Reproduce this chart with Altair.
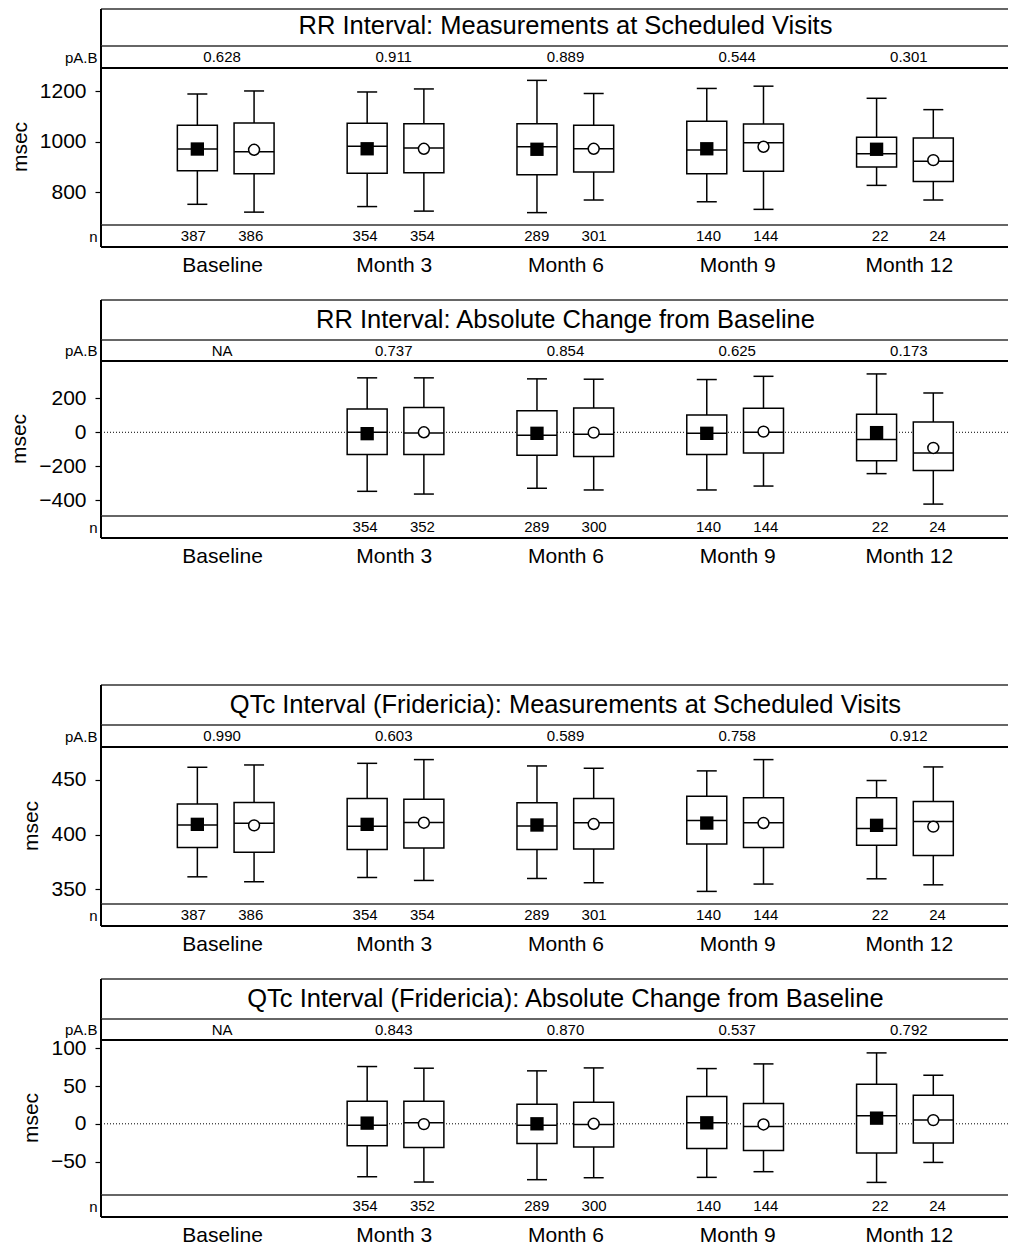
import json
import altair as alt
import pandas as pd

visits = ["Baseline", "Month 3", "Month 6", "Month 9", "Month 12"]

# ---------------- Panel 1: RR interval, measurements ----------------
rr_meas_title = "RR Interval: Measurements at Scheduled Visits"
rr_meas_p = ["0.628", "0.911", "0.889", "0.544", "0.301"]
rr_meas_A_n = [387, 354, 289, 140, 22]
rr_meas_B_n = [386, 354, 301, 144, 24]
rr_meas_A_lo = [752, 743, 719, 762, 827]
rr_meas_A_q1 = [885, 875, 869, 873, 900]
rr_meas_A_med = [971, 982, 980, 967, 952]
rr_meas_A_q3 = [1065, 1073, 1071, 1081, 1018]
rr_meas_A_hi = [1189, 1197, 1243, 1211, 1172]
rr_meas_A_mean = [971, 972, 970, 972, 970]
rr_meas_B_lo = [721, 725, 769, 732, 769]
rr_meas_B_q1 = [873, 877, 880, 883, 842]
rr_meas_B_med = [960, 975, 972, 996, 923]
rr_meas_B_q3 = [1074, 1071, 1065, 1070, 1015]
rr_meas_B_hi = [1201, 1209, 1191, 1220, 1127]
rr_meas_B_mean = [968, 972, 972, 980, 927]

# ---------------- Panel 2: RR interval, change from baseline ----------------
rr_chg_title = "RR Interval: Absolute Change from Baseline"
rr_chg_p = ["NA", "0.737", "0.854", "0.625", "0.173"]
rr_chg_A_n = [None, 354, 289, 140, 22]
rr_chg_B_n = [None, 352, 300, 144, 24]
rr_chg_A_lo = [None, -347, -329, -339, -243]
rr_chg_A_q1 = [None, -131, -135, -131, -167]
rr_chg_A_med = [None, 0, -18, -6, -43]
rr_chg_A_q3 = [None, 137, 127, 102, 106]
rr_chg_A_hi = [None, 320, 314, 310, 343]
rr_chg_A_mean = [None, -8, -6, -6, -2]
rr_chg_B_lo = [None, -363, -339, -316, -422]
rr_chg_B_q1 = [None, -131, -143, -122, -224]
rr_chg_B_med = [None, -4, -12, 0, -122]
rr_chg_B_q3 = [None, 145, 143, 141, 61]
rr_chg_B_hi = [None, 320, 312, 329, 231]
rr_chg_B_mean = [None, 0, -2, 4, -92]

# ---------------- Panel 3: QTcF, measurements ----------------
qt_meas_title = "QTc Interval (Fridericia): Measurements at Scheduled Visits"
qt_meas_p = ["0.990", "0.603", "0.589", "0.758", "0.912"]
qt_meas_A_n = [387, 354, 289, 140, 22]
qt_meas_B_n = [386, 354, 301, 144, 24]
qt_meas_A_lo = [361.5, 360.9, 360.0, 348.2, 359.7]
qt_meas_A_q1 = [388.2, 386.4, 386.4, 391.5, 390.3]
qt_meas_A_med = [408.8, 407.6, 407.9, 413.0, 405.5]
qt_meas_A_q3 = [427.9, 433.0, 429.1, 435.1, 433.6]
qt_meas_A_hi = [461.5, 465.1, 462.7, 458.2, 449.4]
qt_meas_A_mean = [409.4, 409.4, 408.8, 410.6, 408.5]
qt_meas_B_lo = [357.0, 358.2, 356.1, 354.9, 354.2]
qt_meas_B_q1 = [383.9, 387.9, 387.0, 388.2, 380.9]
qt_meas_B_med = [410.3, 411.2, 410.9, 410.9, 412.1]
qt_meas_B_q3 = [429.4, 432.4, 433.0, 433.6, 430.3]
qt_meas_B_hi = [463.6, 468.5, 460.6, 468.5, 461.8]
qt_meas_B_mean = [408.5, 410.9, 409.7, 410.6, 407.3]

# ---------------- Panel 4: QTcF, change from baseline ----------------
qt_chg_title = "QTc Interval (Fridericia): Absolute Change from Baseline"
qt_chg_p = ["NA", "0.843", "0.870", "0.537", "0.792"]
qt_chg_A_n = [None, 354, 289, 140, 22]
qt_chg_B_n = [None, 352, 300, 144, 24]
qt_chg_A_lo = [None, -70.2, -74.1, -71.0, -77.7]
qt_chg_A_q1 = [None, -29.1, -26.0, -32.6, -38.8]
qt_chg_A_med = [None, -1.8, -1.8, 1.3, 10.6]
qt_chg_A_q3 = [None, 30.0, 26.0, 36.2, 52.5]
qt_chg_A_hi = [None, 75.9, 70.2, 73.2, 94.0]
qt_chg_A_mean = [None, 0.9, 0.0, 1.3, 7.5]
qt_chg_B_lo = [None, -77.2, -71.5, -63.5, -51.2]
qt_chg_B_q1 = [None, -31.3, -30.9, -35.3, -25.6]
qt_chg_B_med = [None, 1.3, -0.9, -3.5, 4.9]
qt_chg_B_q3 = [None, 30.0, 28.7, 26.9, 37.9]
qt_chg_B_hi = [None, 73.7, 74.1, 79.4, 64.4]
qt_chg_B_mean = [None, -0.4, 0.0, -0.9, 4.9]

# ---------------- layout / style ----------------
FONT = "Liberation Sans"
W = 907
OFFSET = 0.167
xscale = alt.Scale(domain=[0.295, 0.295 + W / 171.7], nice=False, zero=False)
one = pd.DataFrame({"k": [0]})
label_expr = json.dumps(visits) + "[datum.value - 1]"


def hline(y, sw, color="black"):
    return alt.Chart(one).mark_rule(strokeWidth=sw, color=color).encode(
        x=alt.value(0), x2=alt.value(W), y=alt.value(y))


def vline(h, sw=2):
    return alt.Chart(one).mark_rule(strokeWidth=sw, color="black").encode(
        x=alt.value(0), y=alt.value(0), y2=alt.value(h))


def box_df(A, B):
    rows = []
    for arm, vals, off in (("A", A, -OFFSET), ("B", B, OFFSET)):
        lo, q1, med, q3, hi, mean, n = vals
        for i in range(len(visits)):
            if med[i] is None:
                continue
            rows.append(dict(pos=i + 1 + off, arm=arm, lo=lo[i], q1=q1[i], med=med[i],
                             q3=q3[i], hi=hi[i], mean=mean[i], n=str(n[i]), row="n"))
    return pd.DataFrame(rows)


def title_strip(title, h, text_y):
    df = pd.DataFrame({"title": [title]})
    t = alt.Chart(df).mark_text(fontSize=25.5, font=FONT, color="black", baseline="middle").encode(
        x=alt.X(datum=3, scale=xscale, axis=None), y=alt.value(text_y), text="title:N")
    return alt.layer(hline(0, 1.5, "#333333"), vline(h), t).properties(width=W, height=h)


def p_strip(pvals, h):
    df = pd.DataFrame({"pos": list(range(1, len(visits) + 1)), "p": pvals, "row": "pA.B"})
    t = alt.Chart(df).mark_text(fontSize=15, font=FONT, color="black").encode(
        x=alt.X("pos:Q", scale=xscale, axis=None),
        y=alt.Y("row:N", title=None, axis=alt.Axis(ticks=False, domain=False, labelFontSize=15,
                                                    labelPadding=4, labelColor="black", labelFont=FONT)),
        text="p:N")
    return alt.layer(hline(0, 1.5, "#333333"), vline(h), t).properties(width=W, height=h)


def plot_strip(df, domain, ticks, h, zero_line):
    ysc = alt.Scale(domain=domain, nice=False, zero=False)
    yax = alt.Axis(values=ticks, format="d", title="msec", titleFontSize=21, titleFontWeight="normal",
                   titleColor="black", titleFont=FONT, titlePadding=9, labelFontSize=21,
                   labelColor="black", labelFont=FONT, tickSize=6, tickColor="black",
                   tickWidth=1.2, labelPadding=9, domain=False, grid=False)
    X = alt.X("pos:Q", scale=xscale, axis=None)

    def Y(f):
        return alt.Y(f + ":Q", scale=ysc, axis=yax)

    base = alt.Chart(df)
    layers = []
    if zero_line:
        layers.append(alt.Chart(one).mark_rule(strokeDash=[1, 2], strokeWidth=1, color="black").encode(
            x=alt.value(0), x2=alt.value(W), y=alt.Y(datum=0, scale=ysc, axis=yax)))
    layers += [
        base.mark_rule(strokeWidth=1.5, color="black").encode(x=X, y=Y("lo"), y2="hi:Q"),
        base.mark_tick(orient="horizontal", size=20, thickness=1.5, color="black", opacity=1).encode(x=X, y=Y("lo")),
        base.mark_tick(orient="horizontal", size=20, thickness=1.5, color="black", opacity=1).encode(x=X, y=Y("hi")),
        base.mark_bar(size=40, fill="white", stroke="black", strokeWidth=1.5, opacity=1).encode(
            x=X, y=Y("q1"), y2="q3:Q"),
        base.mark_tick(orient="horizontal", size=40, thickness=1.5, color="black", opacity=1).encode(x=X, y=Y("med")),
        base.transform_filter(alt.datum.arm == "A").mark_point(
            shape="square", filled=True, size=178, color="black", opacity=1).encode(x=X, y=Y("mean")),
        base.transform_filter(alt.datum.arm == "B").mark_point(
            shape="circle", filled=True, fill="white", stroke="black", strokeWidth=1.5,
            size=119, opacity=1).encode(x=X, y=Y("mean")),
        hline(0, 2),
        vline(h),
    ]
    return alt.layer(*layers).properties(width=W, height=h)


def n_strip(df, h, gap):
    t = alt.Chart(df).mark_text(fontSize=15, font=FONT, color="black").encode(
        x=alt.X("pos:Q", scale=xscale,
                axis=alt.Axis(values=list(range(1, len(visits) + 1)), labelExpr=label_expr,
                              ticks=False, domain=False, grid=False, labelFontSize=21,
                              labelPadding=7, labelColor="black", labelFont=FONT, title=None,
                              labelFlush=False, labelOverlap=False)),
        y=alt.Y("row:N", title=None, axis=alt.Axis(ticks=False, domain=False, labelFontSize=15,
                                                 labelPadding=4, labelColor="black", labelFont=FONT)),
        text="n:N")
    return alt.layer(hline(0, 1.5, "#333333"), hline(h, 2), vline(h), t).properties(width=W, height=h)


def spacer(h):
    return alt.Chart(one).mark_text(text="").encode(x=alt.value(0), y=alt.value(0)).properties(width=W, height=h)


panels = [
    dict(title=rr_meas_title, p=rr_meas_p,
         A=(rr_meas_A_lo, rr_meas_A_q1, rr_meas_A_med, rr_meas_A_q3, rr_meas_A_hi, rr_meas_A_mean, rr_meas_A_n),
         B=(rr_meas_B_lo, rr_meas_B_q1, rr_meas_B_med, rr_meas_B_q3, rr_meas_B_hi, rr_meas_B_mean, rr_meas_B_n),
         domain=[670, 1292], ticks=[800, 1000, 1200], th=37, ty=17, ph=22, h=157, zero=False, gap=53),
    dict(title=rr_chg_title, p=rr_chg_p,
         A=(rr_chg_A_lo, rr_chg_A_q1, rr_chg_A_med, rr_chg_A_q3, rr_chg_A_hi, rr_chg_A_mean, rr_chg_A_n),
         B=(rr_chg_B_lo, rr_chg_B_q1, rr_chg_B_med, rr_chg_B_q3, rr_chg_B_hi, rr_chg_B_mean, rr_chg_B_n),
         domain=[-492, 419], ticks=[-400, -200, 0, 200], th=40, ty=20, ph=21, h=155, zero=True, gap=147),
    dict(title=qt_meas_title, p=qt_meas_p,
         A=(qt_meas_A_lo, qt_meas_A_q1, qt_meas_A_med, qt_meas_A_q3, qt_meas_A_hi, qt_meas_A_mean, qt_meas_A_n),
         B=(qt_meas_B_lo, qt_meas_B_q1, qt_meas_B_med, qt_meas_B_q3, qt_meas_B_hi, qt_meas_B_mean, qt_meas_B_n),
         domain=[336.7, 480], ticks=[350, 400, 450], th=40, ty=20, ph=22, h=157, zero=False, gap=53),
    dict(title=qt_chg_title, p=qt_chg_p,
         A=(qt_chg_A_lo, qt_chg_A_q1, qt_chg_A_med, qt_chg_A_q3, qt_chg_A_hi, qt_chg_A_mean, qt_chg_A_n),
         B=(qt_chg_B_lo, qt_chg_B_q1, qt_chg_B_med, qt_chg_B_q3, qt_chg_B_hi, qt_chg_B_mean, qt_chg_B_n),
         domain=[-94.4, 111.1], ticks=[-50, 0, 50, 100], th=40, ty=20, ph=21, h=155, zero=True, gap=0),
]

rows = []
for pn in panels:
    df = box_df(pn["A"], pn["B"])
    rows.append(title_strip(pn["title"], pn["th"], pn["ty"]))
    rows.append(p_strip(pn["p"], pn["ph"]))
    rows.append(plot_strip(df, pn["domain"], pn["ticks"], pn["h"], pn["zero"]))
    rows.append(n_strip(df, 22, pn["gap"]))
    if pn["gap"]:
        rows.append(spacer(pn["gap"]))

chart = alt.vconcat(*rows, spacing=0, bounds="flush").properties(
    padding={"left": 0, "top": 0, "right": 0, "bottom": 0}
).configure(font=FONT).configure_view(stroke=None)

chart.save("out.html", embed_options={"renderer": "svg", "actions": False})
